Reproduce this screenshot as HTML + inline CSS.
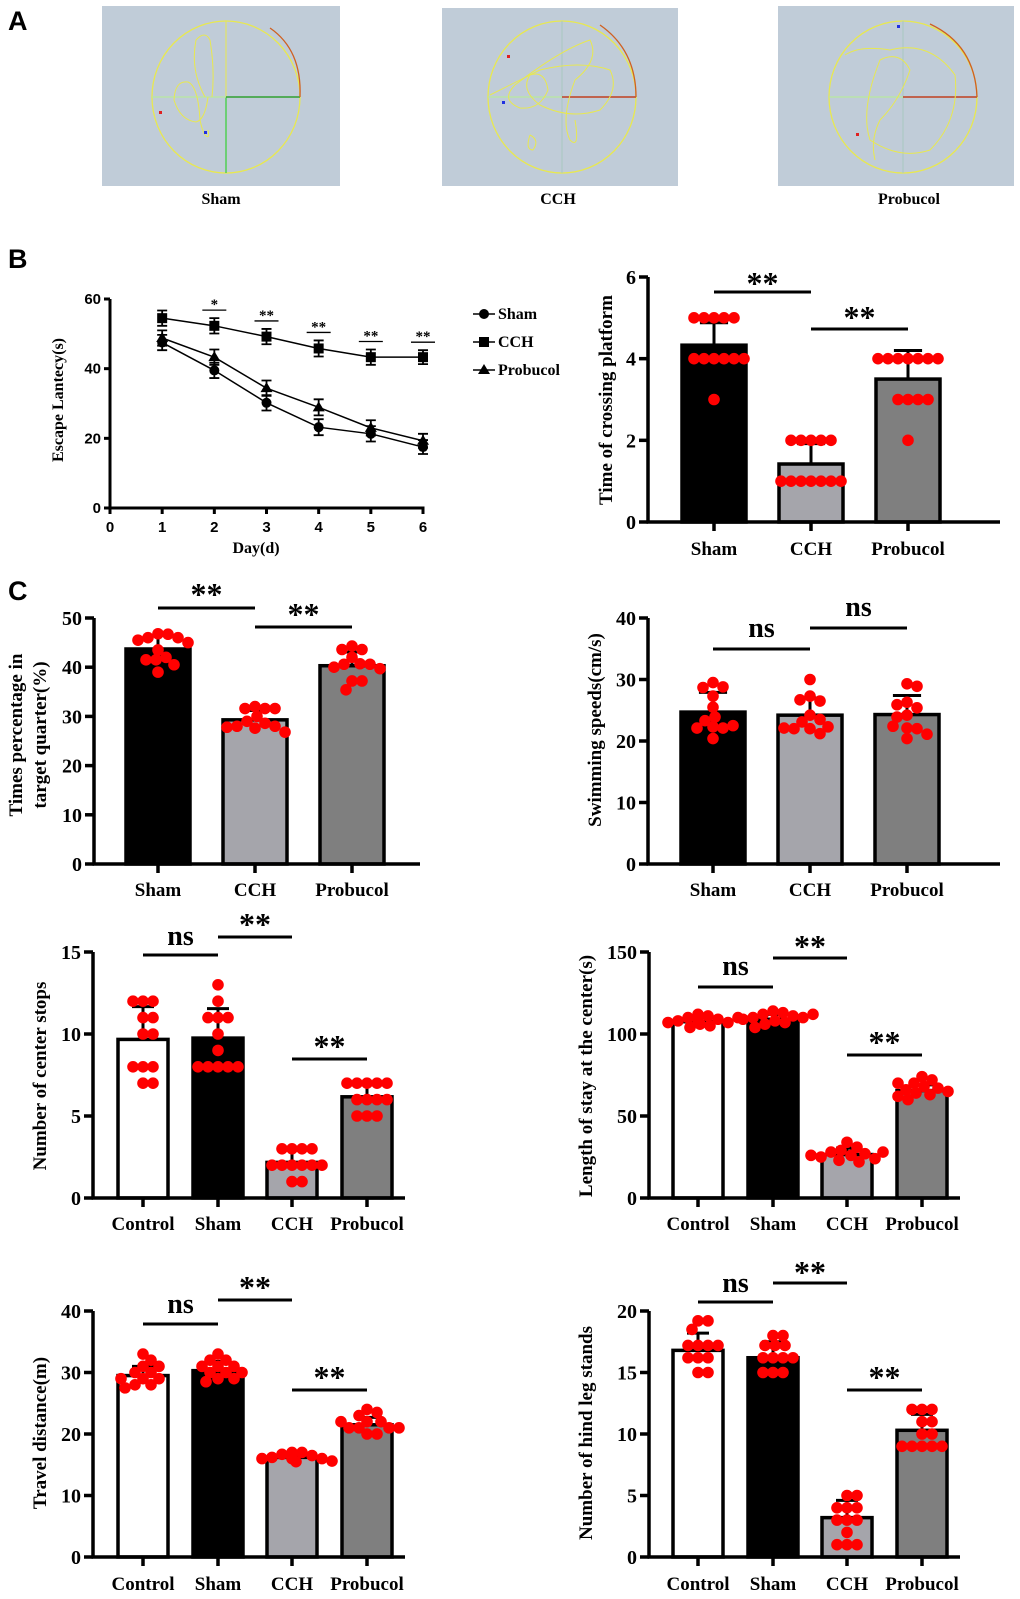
<!DOCTYPE html>
<html><head><meta charset="utf-8"><style>
html,body{margin:0;padding:0;background:#fff;}
svg{display:block;}
text{font-family:"Liberation Serif",serif;font-weight:bold;fill:#000;}
.sans{font-family:"Liberation Sans",sans-serif;}
</style></head><body>
<svg id="fig" width="1020" height="1599" viewBox="0 0 1020 1599" xmlns="http://www.w3.org/2000/svg">
<text class="sans" x="8" y="30" font-size="27">A</text>
<text class="sans" x="8" y="268" font-size="27">B</text>
<text class="sans" x="8" y="600" font-size="27">C</text>
<g>
<rect x="102" y="6" width="238" height="180" fill="#c0ccd8"/>
<ellipse cx="226" cy="97" rx="74" ry="76" fill="none" stroke="#e8e850" stroke-width="1.3"/>
<line x1="226" y1="21" x2="226" y2="97" stroke="#e8e850" stroke-width="1"/>
<line x1="226" y1="97" x2="226" y2="173" stroke="#40d040" stroke-width="1.3"/>
<line x1="152" y1="97" x2="226" y2="97" stroke="#b8e8a0" stroke-width="1.3"/>
<line x1="226" y1="97" x2="300" y2="97" stroke="#30a030" stroke-width="1.5"/>
<path d="M300 97 Q302 50 270 28" fill="none" stroke="#d06020" stroke-width="1.3"/>
<path d="M208 97 Q205 120 196 122 Q180 120 174 100 Q175 80 188 82 Q198 86 200 120 Q202 130 205 135 Q210 140 208 130 M205 97 Q190 70 196 40 Q205 30 210 40 Q215 70 212 97" fill="none" stroke="#e8e850" stroke-width="1"/>
<rect x="159" y="111" width="3" height="3" fill="#e02020"/><rect x="204" y="131" width="3" height="3" fill="#2030e0"/>
<text x="221" y="204" font-size="16" text-anchor="middle">Sham</text>
</g>
<g>
<rect x="442" y="8" width="236" height="178" fill="#c0ccd8"/>
<ellipse cx="562" cy="97" rx="74" ry="76" fill="none" stroke="#e8e850" stroke-width="1.3"/>
<line x1="562" y1="21" x2="562" y2="173" stroke="#a8c8c0" stroke-width="1"/>
<line x1="488" y1="97" x2="562" y2="97" stroke="#b8e8a0" stroke-width="1.3"/>
<line x1="562" y1="97" x2="636" y2="97" stroke="#c04020" stroke-width="1.5"/>
<path d="M636 97 Q636 50 600 25" fill="none" stroke="#d06020" stroke-width="1.3"/>
<path d="M490 95 Q520 80 540 70 Q580 60 610 70 Q620 90 600 110 Q570 120 540 105 Q520 90 530 75 Q545 70 548 90 Q540 110 520 108 Q500 100 515 85 Q560 50 590 40 Q600 60 575 80 Q560 120 570 140 Q580 150 575 120 M530 135 Q525 150 533 150 Q540 140 530 135" fill="none" stroke="#e8e850" stroke-width="1"/>
<rect x="507" y="55" width="3" height="3" fill="#e02020"/><rect x="502" y="101" width="3" height="3" fill="#2030e0"/>
<text x="558" y="204" font-size="16" text-anchor="middle">CCH</text>
</g>
<g>
<rect x="778" y="6" width="236" height="180" fill="#c0ccd8"/>
<ellipse cx="903" cy="97" rx="74" ry="76" fill="none" stroke="#e8e850" stroke-width="1.3"/>
<line x1="903" y1="21" x2="903" y2="173" stroke="#a8c8c0" stroke-width="1"/>
<line x1="829" y1="97" x2="903" y2="97" stroke="#b8e8a0" stroke-width="1.3"/>
<line x1="903" y1="97" x2="977" y2="97" stroke="#c04020" stroke-width="1.5"/>
<path d="M977 97 Q975 45 930 24" fill="none" stroke="#d06020" stroke-width="1.3"/>
<path d="M845 55 Q860 45 890 50 Q930 40 955 75 Q960 120 930 150 Q900 160 870 140 Q860 110 880 60 Q900 50 910 70 Q900 100 880 120 Q870 140 875 160" fill="none" stroke="#e8e850" stroke-width="1"/>
<rect x="856" y="133" width="3" height="3" fill="#e02020"/><rect x="897" y="25" width="3" height="3" fill="#2030e0"/>
<text x="909" y="204" font-size="16" text-anchor="middle">Probucol</text>
</g>
</svg>
<script>
// ---------- Line chart data (panel B left) ----------
const days = [1, 2, 3, 4, 5, 6];
const shamLatency = [47.5, 39.5, 30.2, 23.2, 21.3, 17.5];
const cchLatency = [54.5, 52.3, 49.2, 45.8, 43.3, 43.3];
const probLatency = [48.8, 43.3, 34.4, 28.9, 23.0, 19.3];
const latencyErr = [2.2, 2.2, 2.2, 2.3, 2.2, 2.0];
const latencyTicks = [0, 20, 40, 60];
const dayTicks = [0, 1, 2, 3, 4, 5, 6];
const daySig = ["", "*", "**", "**", "**", "**"];

// ---------- Bar chart data ----------
const groups3 = ["Sham", "CCH", "Probucol"];
const groups4 = ["Control", "Sham", "CCH", "Probucol"];
const crossMeans = [4.33, 1.42, 3.5];
const crossSD = [0.55, 0.5, 0.7];
const crossDots = [[5,5,5,5,5,4,4,4,4,4,4,3],[2,2,2,2,2,1,1,1,1,1,1,1],[4,4,4,4,4,4,4,3,3,3,3,2]];
const crossTicks = [0, 2, 4, 6];
const targetMeans = [43.7, 29.3, 40.3];
const targetSD = [2.8, 1.9, 2.8];
const targetDots = [[46.8,46.7,46,46,45.5,43.5,42,41.5,41.5,40.5,39,45],[32,31.6,31.6,31.6,30,29,28.6,28,28,27.8,27.6,26.8],[44.3,43.6,43.6,42,40.7,40.6,40.6,40,39.7,37.2,37.2,35.4]];
const targetTicks = [0, 10, 20, 30, 40, 50];
const speedMeans = [24.7, 24.2, 24.3];
const speedSD = [3.2, 2.8, 3.1];
const speedDots = [[29.5,28.8,28.7,27.3,25.5,23.9,23.3,22.3,22.1,22.1,22.5,20.4],[30,27.3,26.5,26.7,24.2,23.5,23.1,22,22.3,22,22.1,21.2],[29.3,28.9,26.3,25.4,25.9,24.2,23.9,22.1,22,22.4,21.1,20.4]];
const speedTicks = [0, 10, 20, 30, 40];
const stopsMeans = [9.67, 9.75, 2.17, 6.17];
const stopsSD = [2.0, 1.8, 0.75, 0.8];
const stopsDots = [[12,12,12,11,11,10,10,8,8,8,7,7],[13,12,11,11,11,10,9,8,8,8,8,8],[3,3,3,3,2,2,2,2,2,2,1,1],[7,7,7,7,7,6,6,6,6,5,5,5]];
const stopsTicks = [0, 5, 10, 15];
const stayMeans = [107.5, 109, 26.5, 65.5];
const staySD = [2.8, 3, 4, 3.5];
const stayDots = [[112,111,110,109,108,107,107,106,105,104,110,108],[114,113,112,111,110,110,109,108,107,106,112,104],[34,31,29,28,27,26,25,24,23,22,28,26],[74,72,70,68,67,66,65,64,63,62,60,70]];
const stayTicks = [0, 50, 100, 150];
const distMeans = [29.5, 30.3, 16.2, 21.5];
const distSD = [1.5, 1.5, 0.6, 1.2];
const distDots = [[33,32,31,30,30,29,29,28,28,27.5,31,29],[33,32,32,31,31,30,30,29,29,28.5,31,30],[17,17,16.7,16.5,16.2,16,16,15.6,15.5,16,16.8,16.1],[24,23.5,23,22,22,21,21,21,20,20,22,21]];
const distTicks = [0, 10, 20, 30, 40];
const standMeans = [16.8, 16.2, 3.2, 10.3];
const standSD = [1.4, 1.3, 1.4, 1.3];
const standDots = [[19.2,19.2,18.5,17.2,17.2,17.2,17.2,16.2,16.2,16.2,15,15],[18,18,17.2,17.2,17.2,16.2,16.2,16.2,16.2,15,15,15],[5,5,4,4,4,3,3,3,1,1,1,2],[12,12,12,11,11,10,10,9,9,9,9,9]];
const standTicks = [0, 5, 10, 15, 20];

const NS = "http://www.w3.org/2000/svg";
const svg = document.getElementById('fig');
function add(parent, tag, attrs, name) {
  const el = document.createElementNS(NS, tag);
  for (const k in attrs) el.setAttribute(k, attrs[k]);
  
  
  parent.appendChild(el);
  return el;
}
function txt(parent, x, y, s, size, anchor, name, extra) {
  const t = add(parent, 'text', Object.assign({x: x, y: y, 'font-size': size, 'text-anchor': anchor || 'start'}, extra || {}), name);
  t.textContent = s;
  return t;
}

// ---------- Line chart ----------
(function () {
  const g = add(svg, 'g', {}, 'escape-latency-chart');
  const x0 = 110, x6 = 423, y0 = 508, y60 = 299;
  const X = d => x0 + d / 6 * (x6 - x0);
  const Y = v => y0 - v / 60 * (y0 - y60);
  add(g, 'line', {x1: x0, y1: Y(60), x2: x0, y2: y0 + 1.5, stroke: '#000', 'stroke-width': 3}, 'y-axis');
  add(g, 'line', {x1: x0 - 1.5, y1: y0, x2: X(6) + 1.5, y2: y0, stroke: '#000', 'stroke-width': 3}, 'x-axis');
  latencyTicks.forEach(v => {
    add(g, 'line', {x1: x0 - 6, y1: Y(v), x2: x0, y2: Y(v), stroke: '#000', 'stroke-width': 3}, 'y-tick');
    txt(g, x0 - 9, Y(v) + 5, String(v), 15, 'end', 'y-tick-label', {class: 'sans'});
  });
  dayTicks.forEach(d => {
    add(g, 'line', {x1: X(d), y1: y0, x2: X(d), y2: y0 + 6, stroke: '#000', 'stroke-width': 3}, 'x-tick');
    txt(g, X(d), y0 + 24, String(d), 15, 'middle', 'x-tick-label', {class: 'sans'});
  });
  txt(g, 256, 553, 'Day(d)', 16, 'middle', 'x-axis-title');
  txt(g, 0, 0, 'Escape Lantecy(s)', 16, 'middle', 'y-axis-title', {transform: 'translate(63,400) rotate(-90)'});
  const series = [[shamLatency, 'circle', 'sham'], [cchLatency, 'square', 'cch'], [probLatency, 'triangle', 'probucol']];
  series.forEach(([vals, shape, nm]) => {
    const pts = days.map((d, i) => X(d) + ',' + Y(vals[i])).join(' ');
    add(g, 'polyline', {points: pts, fill: 'none', stroke: '#000', 'stroke-width': 1.5}, 'line-' + nm);
    days.forEach((d, i) => {
      const cx = X(d), cy = Y(vals[i]), e = latencyErr[i] / 60 * (y0 - y60);
      add(g, 'path', {d: `M${cx} ${cy - e}V${cy + e}M${cx - 5} ${cy - e}H${cx + 5}M${cx - 5} ${cy + e}H${cx + 5}`, stroke: '#000', 'stroke-width': 1.8, fill: 'none'}, 'error-bar-' + nm);
      if (shape === 'circle') add(g, 'circle', {cx: cx, cy: cy, r: 5}, 'point-' + nm);
      else if (shape === 'square') add(g, 'rect', {x: cx - 5, y: cy - 5, width: 10, height: 10}, 'point-' + nm);
      else add(g, 'path', {d: `M${cx} ${cy - 6}L${cx + 6} ${cy + 4}L${cx - 6} ${cy + 4}Z`}, 'point-' + nm);
    });
  });
  days.forEach((d, i) => {
    if (!daySig[i]) return;
    const yl = Y(cchLatency[i] + latencyErr[i]) - 8;
    add(g, 'line', {x1: X(d) - 12, y1: yl, x2: X(d) + 12, y2: yl, stroke: '#000', 'stroke-width': 1.3}, 'sig-underline');
    txt(g, X(d), yl - 1, daySig[i], 15, 'middle', 'sig-stars');
  });
  const leg = [['Sham', 'circle', 314], ['CCH', 'square', 342], ['Probucol', 'triangle', 370]];
  leg.forEach(([l, s, y]) => {
    const lg = add(g, 'g', {}, 'legend-entry');
    add(lg, 'line', {x1: 473, y1: y, x2: 495, y2: y, stroke: '#000', 'stroke-width': 1.5}, 'legend-line');
    if (s === 'circle') add(lg, 'circle', {cx: 484, cy: y, r: 5}, 'legend-marker');
    else if (s === 'square') add(lg, 'rect', {x: 479, y: y - 5, width: 10, height: 10}, 'legend-marker');
    else add(lg, 'path', {d: `M484 ${y - 6}L490 ${y + 4}L478 ${y + 4}Z`}, 'legend-marker');
    txt(lg, 498, y + 5, l, 16, 'start', 'legend-label');
  });
})();

// ---------- Bar charts ----------
const fillMap = {Control: '#ffffff', Sham: '#000000', CCH: '#a5a5ab', Probucol: '#7f7f7f'};
function barChart(cfg) {
  const g = add(svg, 'g', {}, cfg.name);
  const Y = v => cfg.y0 - v / cfg.max * (cfg.y0 - cfg.yTop);
  const bw = cfg.bw;
  cfg.cats.forEach((c, i) => {
    const cx = cfg.centers[i], top = Y(cfg.means[i]);
    add(g, 'line', {x1: cx, y1: top, x2: cx, y2: Y(cfg.means[i] + cfg.sds[i]), stroke: '#000', 'stroke-width': 3}, 'error-bar');
    add(g, 'line', {x1: cx - bw * 0.22, y1: Y(cfg.means[i] + cfg.sds[i]), x2: cx + bw * 0.22, y2: Y(cfg.means[i] + cfg.sds[i]), stroke: '#000', 'stroke-width': 3}, 'error-cap');
    add(g, 'rect', {x: cx - bw / 2, y: top, width: bw, height: cfg.y0 - top, fill: fillMap[c], stroke: '#000', 'stroke-width': 3.5}, 'bar-' + c.toLowerCase());
  });
  cfg.cats.forEach((c, i) => {
    const cx = cfg.centers[i];
    const placed = [];
    const r = 5.8, dmin = 10;
    cfg.dots[i].forEach(v => {
      const cy = Y(v);
      let px = cx;
      for (let k = 0; k < 40; k++) {
        const off = (k % 2 ? 1 : -1) * Math.ceil(k / 2) * 2;
        const tx = cx + off;
        if (placed.every(p => Math.hypot(p[0] - tx, p[1] - cy) >= dmin)) { px = tx; break; }
      }
      placed.push([px, cy]);
      add(g, 'circle', {cx: px, cy: cy, r: r, fill: '#ff0000'}, 'data-point-' + c.toLowerCase());
    });
  });
  add(g, 'line', {x1: cfg.ox, y1: cfg.yTop, x2: cfg.ox, y2: cfg.y0 + 1.5, stroke: '#000', 'stroke-width': 3.5}, 'y-axis');
  add(g, 'line', {x1: cfg.ox - 1.5, y1: cfg.y0, x2: cfg.xEnd, y2: cfg.y0, stroke: '#000', 'stroke-width': 3.5}, 'x-axis');
  cfg.ticks.forEach(v => {
    add(g, 'line', {x1: cfg.ox - 9, y1: Y(v), x2: cfg.ox, y2: Y(v), stroke: '#000', 'stroke-width': 3.5}, 'y-tick');
    txt(g, cfg.ox - 12, Y(v) + 7, String(v), 20, 'end', 'y-tick-label');
  });
  cfg.cats.forEach((c, i) => {
    add(g, 'line', {x1: cfg.centers[i], y1: cfg.y0, x2: cfg.centers[i], y2: cfg.y0 + 9, stroke: '#000', 'stroke-width': 3.5}, 'x-tick');
    txt(g, cfg.centers[i], cfg.labelY, c, 19, 'middle', 'x-tick-label');
  });
  cfg.titles.forEach(([s, tx]) => txt(g, 0, 0, s, 19, 'middle', 'y-axis-title', {transform: `translate(${tx},${cfg.titleY}) rotate(-90)`}));
  cfg.sig.forEach(([a, b, yl, lab, ty]) => {
    add(g, 'line', {x1: cfg.centers[a], y1: yl, x2: cfg.centers[b], y2: yl, stroke: '#000', 'stroke-width': 3}, 'sig-bracket');
    if (lab === 'ns') txt(g, (cfg.centers[a] + cfg.centers[b]) / 2, ty + 9, 'ns', 28, 'middle', 'sig-label-ns');
    else txt(g, (cfg.centers[a] + cfg.centers[b]) / 2, ty + 16, '**', 32, 'middle', 'sig-label-stars');
  });
}
barChart({name: 'crossing-platform-chart', ox: 648, y0: 522, yTop: 277, max: 6, xEnd: 1000, bw: 64, centers: [714, 811, 908], cats: groups3, means: crossMeans, sds: crossSD, dots: crossDots, ticks: crossTicks, labelY: 555, titles: [['Time of crossing platform', 612]], titleY: 400, sig: [[0, 1, 292, '**', 278], [1, 2, 329, '**', 312]]});
barChart({name: 'target-quarter-chart', ox: 94, y0: 864, yTop: 618, max: 50, xEnd: 420, bw: 64, centers: [158, 255, 352], cats: groups3, means: targetMeans, sds: targetSD, dots: targetDots, ticks: targetTicks, labelY: 896, titles: [['Times percentage in', 22], ['target quarter(%)', 46]], titleY: 735, sig: [[0, 1, 608, '**', 589], [1, 2, 627, '**', 609]]});
barChart({name: 'swimming-speed-chart', ox: 648, y0: 864, yTop: 618, max: 40, xEnd: 1000, bw: 64, centers: [713, 810, 907], cats: groups3, means: speedMeans, sds: speedSD, dots: speedDots, ticks: speedTicks, labelY: 896, titles: [['Swimming speeds(cm/s)', 601]], titleY: 730, sig: [[0, 1, 649, 'ns', 628], [1, 2, 628, 'ns', 607]]});
barChart({name: 'center-stops-chart', ox: 93, y0: 1198, yTop: 952, max: 15, xEnd: 405, bw: 50, centers: [143, 218, 292, 367], cats: groups4, means: stopsMeans, sds: stopsSD, dots: stopsDots, ticks: stopsTicks, labelY: 1230, titles: [['Number of center stops', 46]], titleY: 1076, sig: [[0, 1, 955, 'ns', 936], [1, 2, 937, '**', 919], [2, 3, 1059, '**', 1041]]});
barChart({name: 'center-stay-chart', ox: 649, y0: 1198, yTop: 952, max: 150, xEnd: 960, bw: 50, centers: [698, 773, 847, 922], cats: groups4, means: stayMeans, sds: staySD, dots: stayDots, ticks: stayTicks, labelY: 1230, titles: [['Length of stay at the center(s)', 592]], titleY: 1076, sig: [[0, 1, 987, 'ns', 966], [1, 2, 958, '**', 941], [2, 3, 1055, '**', 1037]]});
barChart({name: 'travel-distance-chart', ox: 93, y0: 1557, yTop: 1311, max: 40, xEnd: 405, bw: 50, centers: [143, 218, 292, 367], cats: groups4, means: distMeans, sds: distSD, dots: distDots, ticks: distTicks, labelY: 1590, titles: [['Travel distance(m)', 46]], titleY: 1433, sig: [[0, 1, 1324, 'ns', 1304], [1, 2, 1300, '**', 1282], [2, 3, 1390, '**', 1372]]});
barChart({name: 'hind-leg-stands-chart', ox: 649, y0: 1557, yTop: 1311, max: 20, xEnd: 960, bw: 50, centers: [698, 773, 847, 922], cats: groups4, means: standMeans, sds: standSD, dots: standDots, ticks: standTicks, labelY: 1590, titles: [['Number of hind leg stands', 592]], titleY: 1433, sig: [[0, 1, 1302, 'ns', 1283], [1, 2, 1283, '**', 1267], [2, 3, 1390, '**', 1372]]});
</script>
</body></html>
